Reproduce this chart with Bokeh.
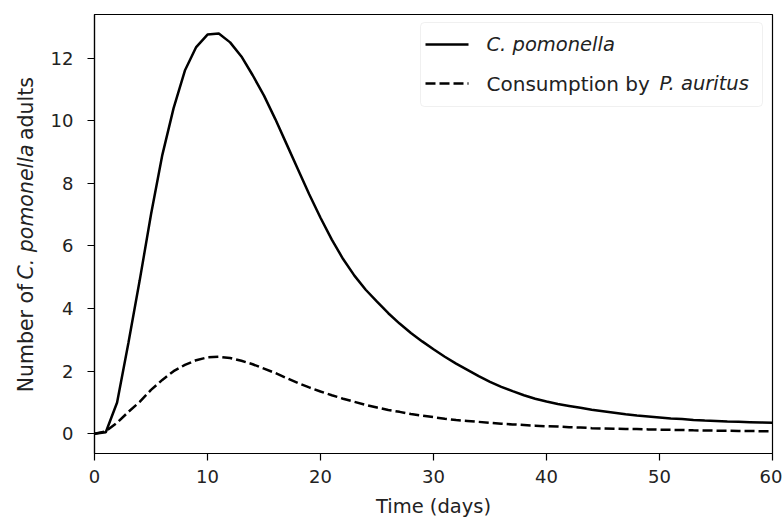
import math
from bokeh.plotting import figure
from bokeh.layouts import row
from bokeh.models import Range1d, FixedTicker, Label, BoxAnnotation, Arrow
from bokeh.core.properties import value
from bokeh.embed import file_html
from bokeh.resources import INLINE

# ---- data ----
days = list(range(61))
pomonella = [0.0, 0.05, 1.0, 2.9, 4.9, 7.0, 8.9, 10.4, 11.6, 12.35,
             12.75, 12.78, 12.5, 12.05, 11.45, 10.8, 10.05, 9.25, 8.45, 7.65,
             6.9, 6.2, 5.58, 5.05, 4.6, 4.22, 3.85, 3.52, 3.22, 2.95,
             2.70, 2.46, 2.24, 2.04, 1.84, 1.66, 1.50, 1.36, 1.23, 1.12,
             1.03, 0.95, 0.89, 0.83, 0.77, 0.72, 0.67, 0.62, 0.58, 0.55,
             0.52, 0.49, 0.47, 0.44, 0.42, 0.41, 0.39, 0.38, 0.37, 0.36,
             0.35]
consumption = [0.0, 0.08, 0.35, 0.7, 1.02, 1.4, 1.72, 2.0, 2.2, 2.35,
               2.44, 2.46, 2.42, 2.33, 2.22, 2.08, 1.94, 1.78, 1.62, 1.48,
               1.35, 1.23, 1.12, 1.02, 0.92, 0.84, 0.76, 0.70, 0.63, 0.58,
               0.53, 0.48, 0.44, 0.41, 0.38, 0.35, 0.32, 0.30, 0.28, 0.26,
               0.24, 0.23, 0.21, 0.20, 0.18, 0.17, 0.16, 0.155, 0.15, 0.14,
               0.13, 0.125, 0.12, 0.11, 0.105, 0.10, 0.095, 0.09, 0.087, 0.083,
               0.08]
x_ticks = [0, 10, 20, 30, 40, 50, 60]
y_ticks = [0, 2, 4, 6, 8, 10, 12]
y_label_parts = ["Number of", "C. pomonella", "adults"]
legend_labels = ["C. pomonella", "Consumption by", "P. auritus"]

FONT = "DejaVu Sans"
TXT = "19.5px"
TICK = "18px"
COL = "#222222"
H = 520

# ---- left strip carrying the y-axis title (mixed italic) ----
# its frame is aligned with the main plot's frame (image rows 14..454),
# so the range is chosen to make one unit equal one pixel (y = 520 - row)
side = figure(width=40, height=H, output_backend="svg", toolbar_location=None,
              x_range=Range1d(0, 40), y_range=Range1d(66, 506),
              x_axis_type=None, y_axis_type=None, min_border=0)
side.outline_line_color = None
side.background_fill_color = "white"
side.border_fill_color = "white"
ys = [127.3, 240.4, 380.2]
styles = ["normal", "italic", "normal"]
for txt, yy, st in zip(y_label_parts, ys, styles):
    side.text(x=[25.5], y=[yy], text=[txt], angle=math.pi / 2,
              text_align="left", text_baseline="middle",
              text_font=value(FONT), text_font_size=value("20.5px"),
              text_font_style=st, text_color=COL)

# ---- main plot ----
p = figure(width=742, height=H, output_backend="svg", toolbar_location=None,
           x_range=Range1d(0, 60), y_range=Range1d(-0.63, 13.39),
           min_border_left=54, min_border_right=10, min_border_top=14,
           min_border_bottom=66)
p.background_fill_color = "white"
p.border_fill_color = "white"
p.outline_line_color = "black"
p.outline_line_width = 1.2
p.xgrid.visible = False
p.ygrid.visible = False

for ax in (p.xaxis[0], p.yaxis[0]):
    ax.axis_line_color = "black"
    ax.axis_line_width = 1.2
    ax.major_tick_line_color = "black"
    ax.major_tick_line_width = 1.2
    ax.major_tick_in = 0
    ax.major_tick_out = 7
    ax.minor_tick_line_color = None
    ax.major_label_text_font = FONT
    ax.major_label_text_font_size = TICK
    ax.major_label_text_color = COL

p.xaxis.ticker = FixedTicker(ticks=x_ticks)
p.yaxis.ticker = FixedTicker(ticks=y_ticks)
p.xaxis.major_label_standoff = 9
p.yaxis.major_label_standoff = 14
p.xaxis.axis_label = "Time (days)"
p.xaxis.axis_label_text_font = FONT
p.xaxis.axis_label_text_font_size = TXT
p.xaxis.axis_label_text_font_style = "normal"
p.xaxis.axis_label_text_color = COL
p.xaxis.axis_label_standoff = 9

# ---- data lines ----
p.line(days, pomonella, line_color="black", line_width=2.5)
p.line(days, consumption, line_color="black", line_width=2.5, line_dash="10 4")


def lab(x, y, text, style="normal", size=TXT):
    p.add_layout(Label(x=x, y=y, x_units="screen", y_units="screen", text=text,
                       text_font=FONT, text_font_size=size, text_font_style=style,
                       text_color=COL, text_baseline="middle", text_align="left"))


# ---- legend (custom, to allow mixed italic text) ----
p.add_layout(BoxAnnotation(left=326, right=668, bottom=347, top=431,
                           left_units="screen", right_units="screen",
                           top_units="screen", bottom_units="screen",
                           fill_color="white", fill_alpha=0.8,
                           line_color="#cccccc", line_width=1, border_radius=4))
p.add_layout(Arrow(end=None, x_start=331, y_start=409, x_end=374, y_end=409,
                   start_units="screen", end_units="screen",
                   line_color="black", line_width=2.5))
p.add_layout(Arrow(end=None, x_start=331, y_start=370, x_end=374, y_end=370,
                   start_units="screen", end_units="screen",
                   line_color="black", line_width=2.5, line_dash="10 4"))
lab(392, 409, legend_labels[0], style="italic")
lab(392, 370, legend_labels[1], size="20px")
lab(565, 370, legend_labels[2], style="italic")

layout = row(side, p)
open("out.html", "w").write(file_html(layout, INLINE))
